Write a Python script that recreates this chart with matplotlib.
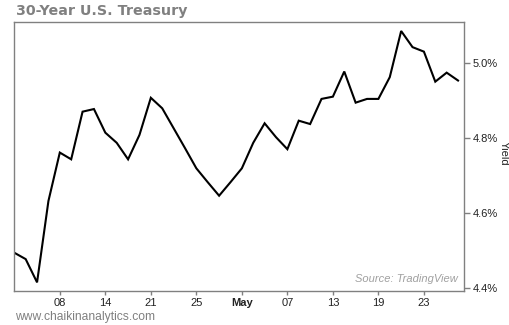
import matplotlib
matplotlib.use("Agg")
import matplotlib.pyplot as plt

dates = ["Apr 02", "Apr 03", "Apr 04", "Apr 07", "Apr 08", "Apr 09", "Apr 10", "Apr 11",
         "Apr 14", "Apr 15", "Apr 16", "Apr 17", "Apr 21", "Apr 22", "Apr 23", "Apr 24",
         "Apr 25", "Apr 28", "Apr 29", "Apr 30", "May 01", "May 02", "May 05", "May 06",
         "May 07", "May 08", "May 09", "May 12", "May 13", "May 14", "May 15", "May 16",
         "May 19", "May 20", "May 21", "May 22", "May 23", "May 27", "May 28", "May 29"]
yields = [4.495, 4.478, 4.416, 4.633, 4.762, 4.744, 4.871, 4.878,
          4.815, 4.788, 4.744, 4.809, 4.908, 4.880, 4.827, 4.774,
          4.720, 4.683, 4.647, 4.683, 4.720, 4.788, 4.840, 4.803,
          4.771, 4.847, 4.838, 4.905, 4.911, 4.978, 4.895, 4.905,
          4.905, 4.963, 5.086, 5.043, 5.031, 4.951, 4.975, 4.954]
x_tick_dates = ["Apr 08", "Apr 14", "Apr 21", "Apr 25", "May 01", "May 07", "May 13", "May 19", "May 23"]
x_tick_labels = ["08", "14", "21", "25", "May", "07", "13", "19", "23"]
y_ticks = [4.4, 4.6, 4.8, 5.0]
y_tick_labels = ["4.4%", "4.6%", "4.8%", "5.0%"]

plt.rcParams['font.family'] = ['Liberation Sans', 'DejaVu Sans']

fig = plt.figure(figsize=(5.1, 3.25), dpi=100)
ax = fig.add_axes([14.3/510, 1-291/325, 450/510, 269/325])

xs = list(range(len(dates)))
ax.plot(xs, yields, color="black", lw=1.5, solid_joinstyle="miter")
ax.set_xlim(0, 39.55)
ax.set_ylim(4.393, 5.110)

gray = "#808080"
for s in ax.spines.values():
    s.set_color(gray)
    s.set_linewidth(1.0)

ax.yaxis.tick_right()
ax.set_yticks(y_ticks)
ax.set_yticklabels(y_tick_labels)
ax.tick_params(axis="y", length=4, width=1, color=gray, labelsize=8, pad=2, labelcolor="#222222")

ax.set_xticks([dates.index(d) for d in x_tick_dates])
ax.set_xticklabels(x_tick_labels)
ax.tick_params(axis="x", length=3, width=1, color=gray, labelsize=8, pad=2, labelcolor="#222222")
for lbl in ax.get_xticklabels():
    if lbl.get_text() == "May":
        lbl.set_fontweight("bold")

fig.text(504/510, 1-153/325, "Yield", rotation=270, fontsize=8, color="#222222",
         ha="center", va="center")

fig.text(16/510, 1-11/325, "30-Year U.S. Treasury", fontsize=10.3, fontweight="bold",
         color=gray, family="DejaVu Sans", va="center", ha="left")
ax.text(0.985, 0.045, "Source: TradingView", transform=ax.transAxes, ha="right", va="center",
        fontsize=8, style="italic", color="#a0a0a0")
fig.text(15/510, 1-317/325, "www.chaikinanalytics.com", fontsize=8.7, color=gray,
         va="center", ha="left")

fig.savefig("out.png", dpi=100)
